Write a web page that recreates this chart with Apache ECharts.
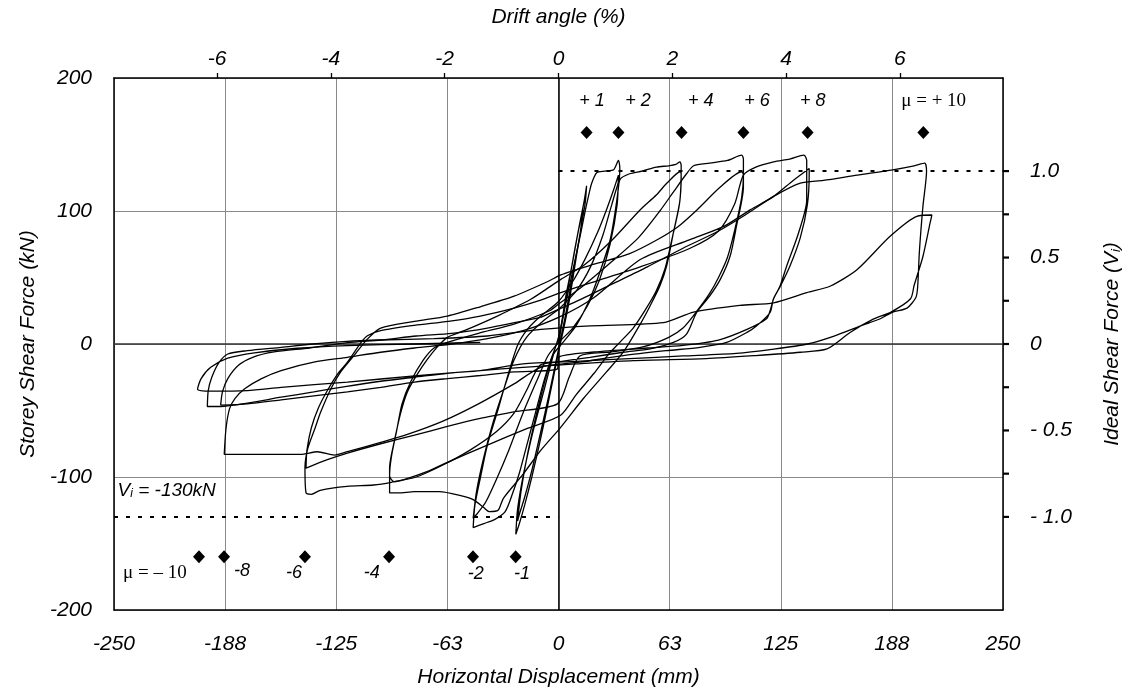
<!DOCTYPE html>
<html>
<head>
<meta charset="utf-8">
<script src="https://cdn.jsdelivr.net/npm/echarts@6/dist/echarts.min.js"></script>
<style>html,body{margin:0;padding:0;background:#fff}#c{width:1137px;height:693px}</style>
</head>
<body>
<div id="c"></div>
<script>
// ---- data (X: mm, Y: kN) ----
const loop1 = [[0,0],[3,24],[6,47],[9,70],[12,91],[14.5,108],[15.8,119],
 [15,106],[12,82],[9,57],[6,32],[3,12],[0,-6],
 [-3,-26],[-7,-52],[-11,-77],[-15,-100],[-19,-121],[-22,-135],[-24,-143],
 [-23,-124],[-19.4,-96],[-14,-64],[-8,-34],[-2.5,-6],[1,10],
 [4,35],[8,62],[11,84],[13,96],[14,101],
 [12,82],[8,52],[4,22],[0,-4],
 [-5,-36],[-10,-66],[-15,-95],[-19,-115],[-22,-128],[-23,-133],
 [-21,-110],[-17,-80],[-11,-45],[-5,-15],[0,4]];
const loop2 = [[0,4],[4,30],[8,55],[12,80],[15,100],[17,112],[18.7,121],[21.5,128.8],[26,130],[31,131],[33.7,138],
 [34.5,132],[33,110],[29,78],[23,53],[17.7,34],[10,14],[3,2],[-3,-8],
 [-8,-27],[-13,-52],[-18,-77],[-22,-97],[-26,-113],[-30,-126],[-36,-132],[-42,-135],[-48,-138],
 [-47,-121],[-44,-101],[-40,-76],[-34.4,-51],[-29,-26],[-23,-1],[-17.5,11],[-10,21],[0,32],
 [8,47],[15,64],[22,84],[27,101],[31,116],[33.7,127],
 [33,105],[29,75],[23,48],[16,28],[8,12],[0,1],[-6,-9],
 [-12,-27],[-20,-52],[-28,-80],[-35,-102],[-41,-119],[-46,-128],[-48,-131],
 [-46,-110],[-42,-85],[-37,-60],[-31,-35],[-25,-12],[-18,5],[-8,18],[0,26]];
const loop4 = [[0,26],[10,40],[18,58],[25,82],[30,105],[34.7,124],[40,128],[47,130],[55,133],[62,134],[66,135],[68.3,137],
 [69,134],[68.3,108],[64.6,83.5],[60.8,58.5],[57,43.6],[51.5,28.6],[46,15],[36.5,-6],[27,-21],[14,-41],[1,-63],[-10,-80],[-20,-98],[-31,-116],[-34,-125],[-39,-126],[-42,-123],[-48,-117],[-55,-114],[-67,-111],[-81,-111],[-90,-112],[-95,-112],
 [-95,-93],[-92,-71],[-88.6,-51],[-85,-36],[-80,-24],[-74,-12],[-68,-2],[-62.5,5],[-53,10],[-34.4,21],[-15.6,33.6],[1.3,48.6],
 [15,60],[30,78],[46,101],[55,112],[61,121],[68.4,129.5],
 [69,126],[68,105],[64,80],[60,57],[55,40],[49,26],[42,12],[35,2],[28,-8],
 [20,-22],[10,-38],[1.2,-53.6],[-17.5,-63.5],[-40,-76],[-62.5,-89],[-74,-96],[-87,-102],[-92.5,-103.5],[-95,-99],
 [-94,-85],[-91,-65],[-88,-45],[-83,-28],[-76,-12],[-70,-3],[-62.5,1.2],[-45,8],[-25,15],[-5,25],[0,30]];
const loop6 = [[0,30],[15,45],[30,62],[45,80],[57,100],[65,115],[72,128],[76,134],[85,136],[95,138],[103,142],
 [104,139],[104,118],[100,88],[96.5,66],[91,48.6],[85,36],[77.7,23.7],[72,7.5],[64.6,1.2],[51.5,-3.7],[36.5,-6.2],[17.7,-10],[-1,-13.7],[-10.4,-16],
 [-18,-35],[-25,-52],[-35,-66],[-50,-80],[-65,-91],[-80,-100],[-94,-104],[-104,-106],[-119,-107],[-134,-110],[-139,-113],[-142,-112],
 [-142.6,-93],[-141,-78.5],[-137,-63.5],[-133.7,-51],[-128,-33.6],[-122.5,-21],[-115,-8.7],[-107.5,3.7],[-100,12],[-81,17],[-62.5,21],[-44,28],[-25,36],[-6,47],[1.3,52],[20,60],[40,68],[55,78],[67,88],[78,101],[91,118],[103,129.5],
 [104,127],[103,110],[99,85],[95,65],[90,50],[85,38],[78,25],[70,12],[62,5],[48,-2],[30,-6],[12,-9],
 [6,-25],[-0.6,-45],[-25,-51],[-44,-56],[-62.5,-62],[-81,-68.5],[-100,-75],[-118.7,-82],[-130,-87],[-142,-93.4],
 [-141.5,-80],[-139,-63],[-135,-48],[-130,-35],[-124,-22],[-118.7,-13.7],[-111,1.2],[-107.5,6.2],[-100,10],[-81,14],[-62,17],[-44,21],[-25,27],[-10,33],[0,38]];
const loop8 = [[0,38],[18,46],[46,58],[74,72],[90,85],[99,105],[104,127],[111,133],[121,137],[130,139],[138,142],
 [139.6,138],[139.6,108],[135,83.5],[128.3,58.5],[124.6,43.6],[120.8,33.6],[119,23.7],[111.5,13.7],[106,8.7],[94.6,1.2],[79.6,-2.5],[60.8,-5],[36.5,-8.7],[12,-13.7],[-10,-17.5],
 [-25,-30],[-45,-45],[-65,-58],[-85,-68],[-100,-74],[-118.7,-81],[-126,-83.5],[-135.6,-81],[-145,-83],[-165,-83],[-188,-83],
 [-187,-63.5],[-185,-48.6],[-182,-41],[-176.5,-33.6],[-167,-26],[-156,-20],[-137.6,-13.7],[-118.7,-10],[-100,-6.2],[-81,-3],[-60,0],[-40,4],[-20,10],[0,20],[20,35],[46,63.5],[74,78.5],[93,88.4],[108,101],[121,111],[132,123],[141,132],
 [141,128],[140,105],[136,80],[130,58],[125,44],[121,34],[119,25],[117,19],[106,11],[90,3],[70,-1],[50,-3],[20,-6],[0,-10],
 [-0.6,-18.7],[-25,-21],[-44,-23.7],[-62.5,-26],[-81,-28.6],[-100,-32.6],[-118.7,-36],[-137.6,-39],[-156,-42],[-175,-45],[-190,-46],
 [-189,-36],[-186,-26],[-180,-16],[-172,-10],[-160,-6],[-140,-3],[-118.7,1],[-100,3],[-80,6],[-60,8],[-40,12],[-10,20]];
const loop10 = [[-10,20],[10,32],[30,45],[50,58],[70,72],[90,85],[105,97],[121,111],[136,121],[149,123],[168,127],[188,131],[200,134],[206,136],
 [207,130],[205,104],[203,70],[202,43],[201,35],[196,27],[188,24],[181,19],[170,13.7],[155,6],[140,0],[120,-4],[100,-7],[70,-9],[40,-11],[10,-13],[-20,-15],
 [-44,-20],[-62.5,-22],[-81,-25],[-100,-28],[-120,-32],[-137.6,-36],[-156,-40],[-175,-44.5],[-190,-47],[-197.5,-47],
 [-197,-35],[-195,-25],[-191,-14],[-186,-7.5],[-175,-5],[-156,-2.5],[-138,0],[-119,2],[-100,3],[-70,4],[-40,6],[-10,11],[18,13.7],[59,16],[76,24],[102,29],[121,31],[139.6,38.6],[153,43.6],[168,56],[186.5,81],[201.5,96],[210,97],
 [209,91],[205,66],[200,44],[198,34],[187,24],[177,18.7],[164,8.7],[151,-3.7],[136,-6.2],[111,-8.7],[83,-11],[42,-12.5],[10,-15],[-20,-17.5],
 [-44,-20],[-81,-24],[-118.7,-28.6],[-156,-32.6],[-175,-35],[-195,-35.5],[-203,-34],
 [-201,-26],[-195.6,-17.5],[-186,-10.7],[-171,-6.7],[-147,-3.2],[-118.7,-1.2],[-81,0],[-44,1.2]];

const diamondsPos = [[15.8,159],[33.7,159],[69.2,159],[104,159],[140.1,159],[205.2,159]];
const diamondsNeg = [[-202.2,-160],[-188.1,-160],[-142.6,-160],[-95.3,-160],[-48.1,-160],[-24.1,-160]];
const labelsPos = [['+ 1',18.8,183],['+ 2',44.7,183],['+ 4',80,183],['+ 6',111.6,183],['+ 8',143,183]];
const labelMuPos = ['μ = + 10',211,183];
const labelsNeg = [['-8',-178,-171],['-6',-148.8,-172],['-4',-105,-172],['-2',-46.6,-173],['-1',-20.5,-173]];
const labelMuNeg = ['μ = – 10',-227,-172];
const viLabel = ['-248','-110'];

const xTickLabels = ['-250','-188','-125','-63','0','63','125','188','250'];
const yTickLabels = ['-200','-100','0','100','200'];
const driftTicks = [-6,-4,-2,0,2,4,6];
const driftMmPerPct = 32;
const idealShear = 130;            // kN = 1.0
const idealTicks = [-1,-0.75,-0.5,-0.25,0,0.25,0.5,0.75,1];
const idealLabelVals = [-1,-0.5,0,0.5,1];
const idealLabelText = ['- 1.0','- 0.5','0','0.5','1.0'];

// ---- chart ----
const FONT = 'Liberation Sans';
const txt = {fontFamily: FONT, fontStyle: 'italic', fontSize: 21, color: '#000'};
const chart = echarts.init(document.getElementById('c'), null, {renderer: 'canvas'});

const loopStyle = {color: '#000', width: 1.3};
function loopSeries(d) {
  return {type: 'line', data: d, symbol: 'none', smooth: 0.25, lineStyle: loopStyle,
          xAxisIndex: 0, yAxisIndex: 0, silent: true, z: 5};
}
function idealLabel(v) {
  const i = idealLabelVals.indexOf(Math.round(v * 100) / 100);
  return i < 0 ? '' : idealLabelText[i];
}

const option = {
  animation: false,
  backgroundColor: '#fff',
  grid: {left: 114, right: 134, top: 78, bottom: 79},
  xAxis: [
    {type: 'value', position: 'bottom', min: -250, max: 250, interval: 62.5,
     axisLine: {show: true, onZero: false, lineStyle: {color: '#000', width: 1.5}},
     axisTick: {show: false},
     axisLabel: Object.assign({margin: 24, formatter: v => xTickLabels[Math.round((v + 250) / 62.5)]}, txt),
     splitLine: {show: true, lineStyle: {color: '#8a8a8a', width: 1}},
     name: 'Horizontal Displacement (mm)', nameLocation: 'middle', nameGap: 57,
     nameTextStyle: Object.assign({}, txt)},
    {type: 'value', position: 'top', min: -250 / driftMmPerPct, max: 250 / driftMmPerPct,
     axisLine: {show: true, onZero: false, lineStyle: {color: '#000', width: 1.5}},
     axisTick: {show: true, interval: 0, customValues: driftTicks, length: 5, lineStyle: {color: '#000', width: 1.3}},
     axisLabel: Object.assign({margin: 8, interval: 0, customValues: driftTicks, formatter: v => String(v)}, txt),
     splitLine: {show: false},
     name: 'Drift angle (%)', nameLocation: 'middle', nameGap: 50,
     nameTextStyle: Object.assign({}, txt)}
  ],
  yAxis: [
    {type: 'value', position: 'left', min: -200, max: 200, interval: 100,
     axisLine: {show: true, onZero: false, lineStyle: {color: '#000', width: 1.5}},
     axisTick: {show: false},
     axisLabel: Object.assign({margin: 22, formatter: v => yTickLabels[Math.round((v + 200) / 100)]}, txt),
     splitLine: {show: true, lineStyle: {color: '#8a8a8a', width: 1}},
     name: 'Storey Shear Force (kN)', nameLocation: 'middle', nameGap: 63, nameRotate: 90,
     nameTextStyle: Object.assign({}, txt)},
    {type: 'value', position: 'right', min: -200 / idealShear, max: 200 / idealShear,
     axisLine: {show: true, onZero: false, lineStyle: {color: '#000', width: 1.5}},
     axisTick: {show: false},
     axisLabel: Object.assign({margin: 27, interval: 0, customValues: idealLabelVals, formatter: idealLabel}, txt),
     splitLine: {show: false},
     name: '{t|Ideal Shear Force (V}{s|i}{t|)}', nameLocation: 'middle', nameGap: 99, nameRotate: 90,
     nameTextStyle: {rich: {t: Object.assign({}, txt), s: Object.assign({}, txt, {fontSize: 13, verticalAlign: 'bottom'})}}}
  ],
  series: [
    Object.assign(loopSeries(loop1), {
      markLine: {silent: true, symbol: 'none', label: {show: false},
        data: [
          {xAxis: 0, lineStyle: {color: '#000', width: 1.5, type: 'solid'}},
          {yAxis: 0, lineStyle: {color: '#333', width: 1.5, type: 'solid'}},
          [{coord: [0, idealShear], lineStyle: {color: '#000', width: 2, type: [4, 8]}}, {coord: [250, idealShear]}],
          [{coord: [-250, -idealShear], lineStyle: {color: '#000', width: 2, type: [4, 8]}}, {coord: [0, -idealShear]}]
        ]}
    }),
    loopSeries(loop2), loopSeries(loop4), loopSeries(loop6), loopSeries(loop8), loopSeries(loop10),
    {type: 'scatter', data: diamondsPos.concat(diamondsNeg), symbol: 'diamond', symbolSize: [12, 13],
     itemStyle: {color: '#000', opacity: 1}, silent: true, z: 6},
    {type: 'scatter', symbolSize: 0, silent: true, z: 7, itemStyle: {opacity: 1},
     data: labelsPos.map(l => ({value: [l[1], l[2]], name: l[0]}))
       .concat(labelsNeg.map(l => ({value: [l[1], l[2]], name: l[0]}))),
     label: {show: true, position: 'inside', formatter: '{b}', fontFamily: FONT, fontStyle: 'italic', fontSize: 18, color: '#000', opacity: 1}},
    {type: 'scatter', symbolSize: 0, silent: true, z: 7, itemStyle: {opacity: 1},
     data: [{value: [labelMuPos[1], labelMuPos[2]], name: labelMuPos[0]}, {value: [labelMuNeg[1], labelMuNeg[2]], name: labelMuNeg[0]}],
     label: {show: true, position: 'inside', formatter: '{b}', fontFamily: 'Liberation Serif', fontSize: 19, color: '#000', opacity: 1}},
    {type: 'scatter', symbolSize: 0, silent: true, z: 7, itemStyle: {opacity: 1},
     data: [{value: [Number(viLabel[0]), Number(viLabel[1])], name: 'vi'}],
     label: {show: true, position: 'right', distance: 0, formatter: '{v|V}{s|i}{v| = -130kN}', opacity: 1,
       rich: {v: {fontFamily: FONT, fontStyle: 'italic', fontSize: 19, color: '#000'},
              s: {fontFamily: FONT, fontStyle: 'italic', fontSize: 12, color: '#000', verticalAlign: 'bottom'}}}},
    // outward tick marks of the right (V/Vi) axis, placed through the kN scale
    {type: 'custom', xAxisIndex: 0, yAxisIndex: 0, silent: true, z: 8, clip: false,
     data: idealTicks.map(v => [0, v * idealShear]),
     renderItem: function (params, api) {
       const y = api.coord([0, api.value(1)])[1];
       const x = params.coordSys.x + params.coordSys.width;
       return {type: 'line', shape: {x1: x, y1: y, x2: x + 6, y2: y},
               style: {stroke: '#000', lineWidth: 2.2}};
     }}
  ]
};
chart.setOption(option);
</script>
</body>
</html>
